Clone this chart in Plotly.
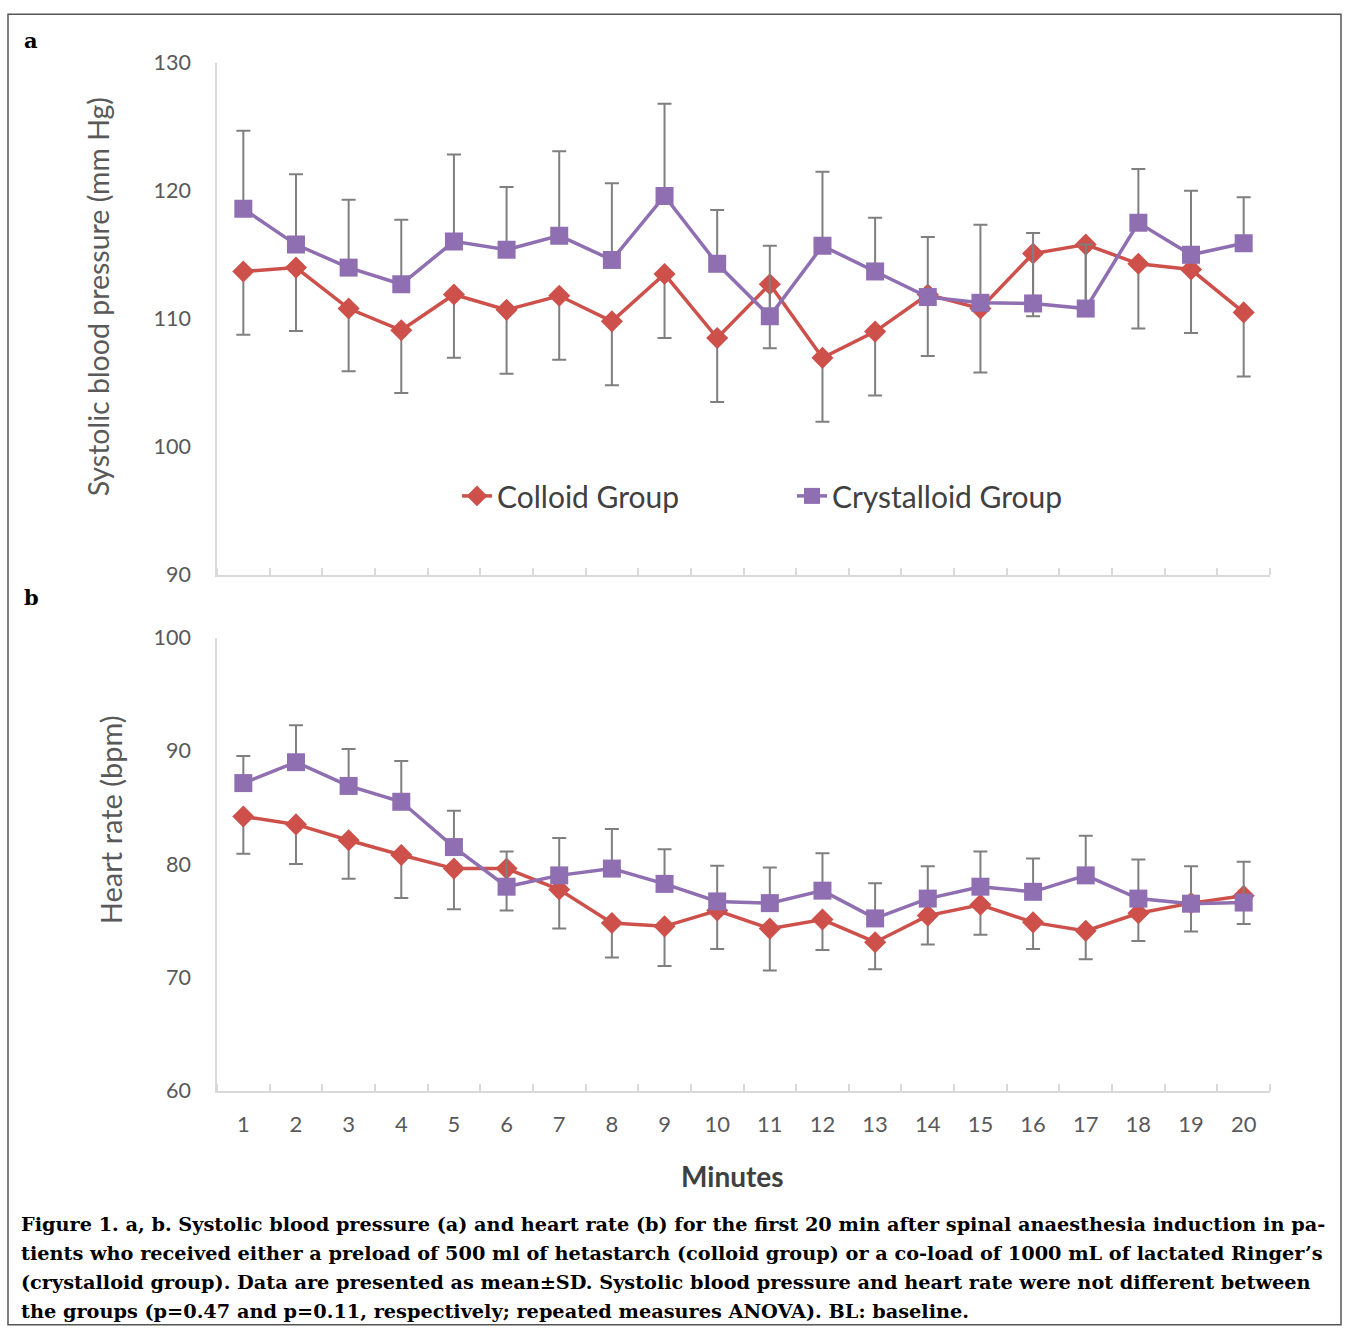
import plotly.graph_objects as go

# ---------------- data ----------------
minutes = list(range(1, 21))
tick_labels = [str(m) for m in minutes]

colloid_sbp = [113.7, 114.0, 110.8, 109.1, 111.9, 110.7, 111.8, 109.8, 113.5, 108.5,
               112.7, 106.95, 109.0, 111.9, 110.8, 115.1, 115.8, 114.3, 113.85, 110.5]
colloid_sbp_sd = [4.95, 4.96, 4.9, 4.9, 4.95, 5.0, 5.0, 5.0, 5.0, 5.0,
                  5.0, 5.0, 5.0, 4.8, 5.0, 4.9, 5.0, 5.05, 4.95, 5.0]
crystalloid_sbp = [118.6, 115.8, 114.0, 112.7, 116.05, 115.4, 116.5, 114.6, 119.6, 114.3,
                   110.2, 115.7, 113.7, 111.7, 111.25, 111.2, 110.8, 117.5, 115.0, 115.9]
crystalloid_sbp_sd = [6.1, 5.5, 5.3, 5.05, 6.8, 4.9, 6.6, 6.0, 7.2, 4.2,
                      5.5, 5.8, 4.2, 4.7, 6.1, 5.5, 5.0, 4.2, 5.0, 3.6]

colloid_hr = [84.2, 83.5, 82.1, 80.8, 79.6, 79.6, 77.75, 74.8, 74.5, 75.9,
              74.3, 75.1, 73.1, 75.45, 76.4, 74.85, 74.1, 75.65, 76.55, 77.2]
colloid_hr_sd = [3.3, 3.5, 3.4, 3.8, 3.6, 3.7, 3.45, 3.05, 3.5, 3.4,
                 3.7, 2.7, 2.4, 2.55, 2.65, 2.35, 2.5, 2.45, 2.5, 2.5]
crystalloid_hr = [87.15, 89.0, 86.9, 85.5, 81.5, 78.0, 79.0, 79.6, 78.25, 76.7,
                  76.55, 77.65, 75.2, 76.95, 78.0, 77.55, 79.0, 76.95, 76.5, 76.6]
crystalloid_hr_sd = [2.4, 3.25, 3.25, 3.6, 3.2, 3.1, 3.3, 3.5, 3.05, 3.15,
                     3.15, 3.3, 3.1, 2.85, 3.1, 2.95, 3.5, 3.45, 3.3, 3.6]

series_names = ["Colloid Group", "Crystalloid Group"]
caption_lines = [
    "Figure 1. a, b. Systolic blood pressure (a) and heart rate (b) for the first 20 min after spinal anaesthesia induction in pa-",
    "tients who received either a preload of 500 ml of hetastarch (colloid group) or a co-load of 1000 mL of lactated Ringer\u2019s",
    "(crystalloid group). Data are presented as mean\u00b1SD. Systolic blood pressure and heart rate were not different between",
    "the groups (p=0.47 and p=0.11, respectively; repeated measures ANOVA). BL: baseline.",
]

# ---------------- style ----------------
W, H = 1345, 1339
RED = "#CD504B"
PURPLE = "#8F6FB2"
ERR = "#7F7F7F"
AXIS = "#D9D9D9"
TICKC = "#595959"
SANS = "Lato, 'Open Sans', sans-serif"
SERIF = "'DejaVu Serif', serif"

# the photographed page appears with its paper spanning rows 12..1328
TOP_OFF, PAPER_SPAN = 12.0, 1316.0

def px_x(p):
    return p / W

def px_y(p):
    f = 1 - (p - TOP_OFF) / PAPER_SPAN
    return min(max(f, 0.001), 0.999)

fig = go.Figure()

zero = [0] * len(minutes)

def add_pair(yref_axis, colloid, colloid_sd, cryst, cryst_sd, legend):
    xa = "x" if yref_axis == "y" else "x2"
    fig.add_trace(go.Scatter(
        x=minutes, y=colloid, name=series_names[0], mode="lines+markers",
        line=dict(color=RED, width=3.5),
        marker=dict(symbol="diamond", size=17, color=RED),
        error_y=dict(type="data", symmetric=False, array=zero, arrayminus=colloid_sd,
                     color=ERR, thickness=2, width=7),
        xaxis=xa, yaxis=yref_axis, showlegend=legend,
    ))
    fig.add_trace(go.Scatter(
        x=minutes, y=cryst, name=series_names[1], mode="lines+markers",
        line=dict(color=PURPLE, width=3.5),
        marker=dict(symbol="square", size=18, color=PURPLE),
        error_y=dict(type="data", symmetric=False, array=cryst_sd, arrayminus=zero,
                     color=ERR, thickness=2, width=7),
        xaxis=xa, yaxis=yref_axis, showlegend=legend,
    ))

add_pair("y", colloid_sbp, colloid_sbp_sd, crystalloid_sbp, crystalloid_sbp_sd, True)
add_pair("y2", colloid_hr, colloid_hr_sd, crystalloid_hr, crystalloid_hr_sd, False)

xdom = [px_x(217), px_x(1270)]
boundaries = [m + 0.5 for m in range(0, 21)]

xaxis_common = dict(
    domain=xdom, range=[0.5, 20.5], showgrid=False, zeroline=False,
    showline=True, linecolor=AXIS, linewidth=1.5,
    tickvals=minutes, ticktext=tick_labels, ticks="",
    minor=dict(tickvals=boundaries, ticks="inside", ticklen=7, tickcolor=AXIS, tickwidth=1.5),
    tickfont=dict(family=SANS, size=22, color=TICKC),
    fixedrange=True,
)

yaxis_common = dict(
    showgrid=False, zeroline=False, showline=True, linecolor=AXIS, linewidth=1.5,
    dtick=10, ticks="", tickfont=dict(family=SANS, size=21.5, color=TICKC),
    ticklabelstandoff=20, fixedrange=True,
)

fig.update_layout(
    width=W, height=H, autosize=False,
    margin=dict(l=0, r=0, t=0, b=0),
    paper_bgcolor="white", plot_bgcolor="white",
    xaxis=dict(anchor="y", showticklabels=False, **xaxis_common),
    yaxis=dict(domain=[px_y(575), px_y(62)], range=[90, 130], anchor="x", **yaxis_common),
    xaxis2=dict(anchor="y2", showticklabels=True, ticklabelstandoff=13, **xaxis_common),
    yaxis2=dict(domain=[px_y(1092), px_y(638)], range=[60, 100], anchor="x2", **yaxis_common),
    legend=dict(orientation="h", x=px_x(457), xanchor="left", y=px_y(496), yanchor="middle",
                font=dict(family=SANS, size=30, color="#404040"),
                entrywidth=290, entrywidthmode="pixels", bgcolor="rgba(0,0,0,0)",
                itemsizing="trace"),
    showlegend=True,
)

annotations = [
    dict(text="Systolic blood pressure (mm Hg)", x=px_x(98), y=px_y(297), textangle=-90,
         font=dict(family=SANS, size=28.5, color=TICKC)),
    dict(text="Heart rate (bpm)", x=px_x(110), y=px_y(821), textangle=-90,
         font=dict(family=SANS, size=29, color=TICKC)),
    dict(text="<b>Minutes</b>", x=px_x(732), y=px_y(1178),
         font=dict(family=SANS, size=28, color="#404040")),
    dict(text="<b>a</b>", x=px_x(22), y=px_y(40), xanchor="left",
         font=dict(family=SERIF, size=21, color="black")),
    dict(text="<b>b</b>", x=px_x(22), y=px_y(598), xanchor="left",
         font=dict(family=SERIF, size=21, color="black")),
]
for i, line in enumerate(caption_lines):
    annotations.append(dict(text="<b>" + line + "</b>", x=px_x(19), y=px_y(1226 + 29 * i),
                            xanchor="left", font=dict(family=SERIF, size=19.3, color="black")))
for a in annotations:
    a.update(xref="paper", yref="paper", showarrow=False)
    a.setdefault("xanchor", "center")
    a.setdefault("yanchor", "middle")
fig.update_layout(annotations=annotations)

fig.add_shape(type="rect", xref="paper", yref="paper",
              x0=px_x(8), x1=px_x(1341), y0=px_y(1335), y1=px_y(5),
              line=dict(color="#555555", width=1.5), fillcolor="rgba(0,0,0,0)", layer="below")

fig.write_html("out.html", config={"displayModeBar": False},
               post_script="document.body.style.margin='0';document.body.style.overflow='hidden';")
